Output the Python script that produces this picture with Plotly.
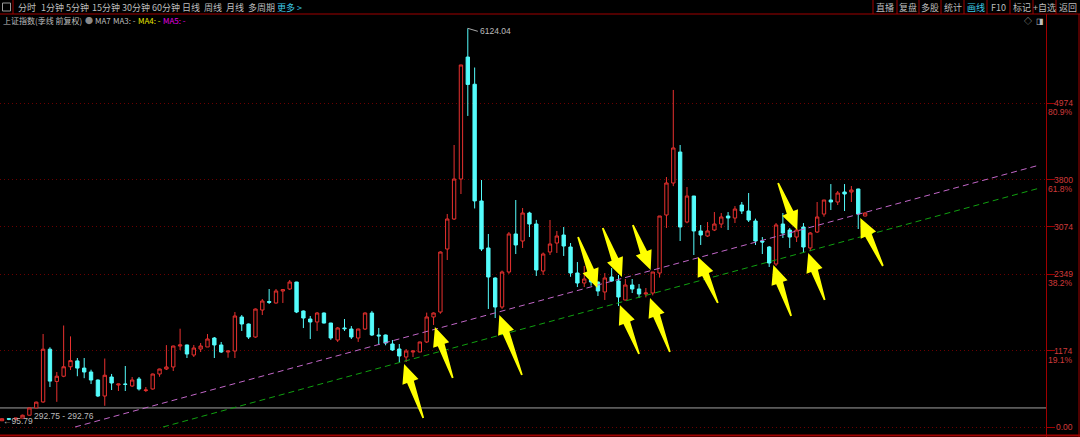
import math
import plotly.graph_objects as go

# ---------------- data (quarterly candles, 上证指数 季线) ----------------
opens = [96.05, 127.61, 120.19, 137.56, 180.92, 293.0, 385.0, 1195.0, 700.0, 780.0,
         925.0, 1015.0, 905.0, 845.0, 722.0, 476.0, 768.0, 645.0, 660.0, 630.0,
         737.0, 560.0, 584.0, 814.0, 891.0, 922.0, 1244.0, 1260.0, 1106.0, 1198.0,
         1229.0, 1367.0, 1260.0, 1152.0, 1167.0, 1690.0, 1582.0, 1382.0, 1797.0, 1928.0,
         1905.0, 2089.0, 2120.0, 2227.0, 1782.0, 1659.0, 1613.0, 1751.0, 1597.0, 1336.0,
         1521.0, 1505.0, 1367.0, 1505.0, 1751.0, 1413.0, 1413.0, 1275.0, 1198.0, 1075.0,
         1152.0, 1152.0, 1306.0, 1690.0, 1766.0, 2734.0, 3195.0, 3809.0, 5683.0, 5265.0,
         3472.0, 2750.0, 2289.0, 1843.0, 2381.0, 2965.0, 2857.0, 3287.0, 3118.0, 2396.0,
         2688.0, 2826.0, 2949.0, 2765.0, 2366.0, 2212.0, 2273.0, 2227.0, 2074.0, 2304.0,
         2243.0, 1951.0, 2181.0, 2120.0, 2043.0, 2058.0, 2365.0, 3256.0, 3748.0, 4224.0,
         3149.0, 3548.0, 3011.0, 2934.0, 3026.0, 3118.0, 3241.0, 3210.0, 3410.0, 3318.0,
         3164.0, 2857.0, 2765.0, 2504.0, 3118.0, 3026.0, 2918.0, 3072.0, 2750.0, 2995.0,
         3271.0, 3487.0, 3456.0, 3610.0, 3610.0, 3656.0, 3241.0]
highs = [127.61, 134.87, 137.56, 190.0, 292.76, 390.0, 1429.0, 1225.0, 845.0, 1558.95,
         1392.0, 1060.0, 1060.0, 880.0, 730.0, 1052.0, 815.0, 665.0, 937.0, 768.0,
         768.0, 614.0, 820.0, 895.0, 1258.0, 1250.0, 1510.0, 1265.0, 1260.0, 1290.0,
         1428.0, 1382.0, 1306.0, 1167.0, 1766.0, 1720.0, 1590.0, 1820.0, 1966.0, 2120.0,
         2120.0, 2120.0, 2258.0, 2230.0, 1790.0, 1705.0, 1766.0, 1760.0, 1600.0, 1536.0,
         1659.0, 1551.0, 1510.0, 1760.0, 1783.0, 1521.0, 1420.0, 1336.0, 1275.0, 1198.0,
         1167.0, 1310.0, 1757.0, 1760.0, 2698.0, 3272.0, 4332.0, 5561.0, 6124.04, 5522.0,
         3794.0, 2965.0, 2300.0, 2403.0, 2995.0, 3487.0, 3364.0, 3306.0, 3181.0, 2680.0,
         3180.0, 3011.0, 3072.0, 2826.0, 2534.0, 2473.0, 2453.0, 2235.0, 2365.0, 2442.0,
         2335.0, 2273.0, 2273.0, 2196.0, 2135.0, 2381.0, 3241.0, 3840.0, 5177.0, 4332.0,
         3686.0, 3550.0, 3103.0, 3149.0, 3302.0, 3287.0, 3302.0, 3394.0, 3456.0, 3594.0,
         3200.0, 2918.0, 2780.0, 3133.0, 3287.0, 3057.0, 3057.0, 3133.0, 2995.0, 3456.0,
         3487.0, 3732.0, 3625.0, 3732.0, 3702.0, 3660.0, 3300.0]
lows = [95.79, 104.96, 105.0, 133.0, 177.0, 292.0, 372.0, 614.0, 386.85, 765.0,
        875.0, 780.0, 750.0, 660.0, 460.0, 325.89, 568.0, 553.0, 553.0, 614.0,
        560.0, 537.0, 575.0, 772.0, 875.0, 860.0, 1183.0, 1060.0, 1075.0, 1152.0,
        1229.0, 1060.0, 1137.0, 1064.0, 1060.0, 1475.0, 1352.0, 1370.0, 1720.0, 1889.0,
        1895.0, 1905.0, 2104.0, 1750.0, 1520.0, 1352.0, 1475.0, 1590.0, 1339.0, 1306.0,
        1475.0, 1352.0, 1307.0, 1490.0, 1398.0, 1275.0, 1255.0, 1167.0, 998.0, 998.0,
        1075.0, 1150.0, 1290.0, 1567.0, 1740.0, 2565.0, 3180.0, 3579.0, 4778.0, 3357.0,
        2703.0, 1813.0, 1674.0, 1814.0, 2353.0, 2657.0, 2750.0, 2918.0, 2320.0, 2335.0,
        2642.0, 2673.0, 2627.0, 2307.0, 2150.0, 2150.0, 2170.0, 2012.0, 1951.0, 2230.0,
        1859.0, 1945.0, 2058.0, 1981.0, 1991.0, 2022.0, 2295.0, 3057.0, 3700.0, 2857.0,
        3130.0, 2642.0, 2796.0, 2920.0, 3010.0, 3057.0, 3026.0, 3133.0, 3272.0, 3149.0,
        2796.0, 2657.0, 2458.0, 2473.0, 2903.0, 2750.0, 2842.0, 2673.0, 2700.0, 2980.0,
        3230.0, 3333.0, 3410.0, 3318.0, 3456.0, 3041.0, 3235.0]
closes = [127.61, 120.19, 137.56, 180.92, 292.75, 382.0, 1195.0, 705.0, 780.0, 925.0,
          1020.0, 905.0, 845.0, 722.0, 476.0, 795.0, 676.0, 660.0, 655.0, 722.0,
          584.0, 568.0, 814.0, 891.0, 922.0, 1244.0, 1260.0, 1121.0, 1213.0, 1244.0,
          1352.0, 1260.0, 1152.0, 1167.0, 1705.0, 1582.0, 1382.0, 1812.0, 1935.0, 1915.0,
          2089.0, 2110.0, 2227.0, 1766.0, 1674.0, 1613.0, 1751.0, 1597.0, 1367.0, 1521.0,
          1510.0, 1382.0, 1505.0, 1751.0, 1413.0, 1400.0, 1290.0, 1183.0, 1091.0, 1167.0,
          1167.0, 1306.0, 1690.0, 1751.0, 2688.0, 3195.0, 3809.0, 5561.0, 5262.0, 3473.0,
          2734.0, 2304.0, 1843.0, 2381.0, 2965.0, 2796.0, 3287.0, 3118.0, 2412.0, 2657.0,
          2811.0, 2934.0, 2780.0, 2366.0, 2212.0, 2273.0, 2227.0, 2089.0, 2289.0, 2243.0,
          1997.0, 2181.0, 2120.0, 2043.0, 2058.0, 2381.0, 3241.0, 3748.0, 4286.0, 3072.0,
          3548.0, 3011.0, 2949.0, 3011.0, 3118.0, 3226.0, 3210.0, 3348.0, 3318.0, 3179.0,
          2857.0, 2842.0, 2519.0, 3103.0, 2980.0, 2918.0, 3026.0, 2765.0, 2980.0, 3226.0,
          3487.0, 3456.0, 3594.0, 3579.0, 3640.0, 3272.0, 3287.0]
first_year, first_quarter = 1990, 4

# right-axis levels
level_values = [0, 1174, 2349, 3074, 3800, 4974]
level_labels = ["0.00", "1174", "2349", "3074", "3800", "4974"]
level_pcts = ["", "19.1%", "38.2%", "", "61.8%", "80.9%"]

peak_high = 6124.04
bottom_low = 95.79
ref_level = 292.75
ref_level_text = "292.75 - 292.76"

# trend lines (index, price) -> (index, price)
trend_pink = (10.66, 0.0, 151.5, 4025.0)
trend_green = (23.5, 0.0, 151.5, 3671.0)

# yellow arrows: (head_index, head_price, tail_index, tail_price)
arrows = [
    (58.7, 968, 61.5, 138),
    (63.2, 1536, 65.8, 753),
    (72.6, 1720, 75.9, 799),
    (86.9, 2135, 84.1, 2919),
    (90.5, 2304, 87.7, 3057),
    (94.7, 2412, 92.1, 3103),
    (90.2, 1874, 93.0, 1121),
    (94.6, 1982, 97.5, 1152),
    (101.6, 2611, 104.5, 1905),
    (112.6, 2488, 115.2, 1705),
    (117.7, 2673, 120.1, 1951),
    (125.3, 3210, 128.6, 2473),
    (116.1, 3026, 113.3, 3748),
]

toolbar_left = ["分时", "1分钟", "5分钟", "15分钟", "30分钟", "60分钟", "日线", "周线", "月线", "多周期"]
toolbar_right = ["直播", "复盘", "多股", "统计", "画线", "F10", "标记", "+自选", "返回"]

# ---------------- geometry ----------------
W, H = 1080, 437
ML, MR, MT, MB = 0, 34, 15, 3
PW, PH = W - ML - MR, H - MT - MB
X0, X1 = -0.292, 152.41
Y0, Y1 = -107.5, 6328.7

RED = "#E8312F"
CYAN = "#54FCFC"
DARKRED = "#A00000"
GRAY = "#BDBDBD"
CJK = "Noto Sans CJK SC, sans-serif"
NUM = "Liberation Sans, Arial, sans-serif"


def d2p(x, y):
    return ((x - X0) * PW / (X1 - X0), MT + (Y1 - y) * PH / (Y1 - Y0))


def p2d(px, py):
    return (X0 + px * (X1 - X0) / PW, Y1 - (py - MT) * (Y1 - Y0) / PH)


def pxx(px):
    return (px - ML) / PW


def pxy(py):
    return (H - MB - py) / PH


n = len(opens)
xs = list(range(n))
qlabels = []
y, q = first_year, first_quarter
for _ in range(n):
    qlabels.append(f"{y}Q{q}")
    q += 1
    if q > 4:
        q, y = 1, y + 1

fig = go.Figure()
fig.add_trace(go.Candlestick(
    x=xs, open=opens, high=highs, low=lows, close=closes, hovertext=qlabels,
    increasing=dict(line=dict(color=RED, width=1), fillcolor="black"),
    decreasing=dict(line=dict(color=CYAN, width=1), fillcolor=CYAN),
    whiskerwidth=0, showlegend=False,
))

shapes = []
annotations = []

# horizontal reference line at 292.75
shapes.append(dict(type="line", xref="paper", yref="y", x0=0, x1=1, y0=ref_level, y1=ref_level,
                   line=dict(color="#A0A0A0", width=1), layer="below"))

# trend lines
for (xa, ya, xb, yb), col in ((trend_pink, "#C267C8"), (trend_green, "#10A010")):
    shapes.append(dict(type="line", xref="x", yref="y", x0=xa, y0=ya, x1=xb, y1=yb,
                       line=dict(color=col, width=1, dash="6px,4px")))

# yellow arrows as polygons
HL, HW, SW, TW = 19.0, 8.5, 3.6, 0.9
for hx_d, hy_d, tx_d, ty_d in arrows:
    hx, hy = d2p(hx_d, hy_d)
    tx, ty = d2p(tx_d, ty_d)
    dx, dy = hx - tx, hy - ty
    L = math.hypot(dx, dy)
    ux, uy = dx / L, dy / L
    nx, ny = -uy, ux
    bx, by = hx - ux * HL, hy - uy * HL
    pts = [(tx + nx * TW, ty + ny * TW), (bx + nx * SW, by + ny * SW), (bx + nx * HW, by + ny * HW),
           (hx, hy), (bx - nx * HW, by - ny * HW), (bx - nx * SW, by - ny * SW),
           (tx - nx * TW, ty - ny * TW)]
    dpts = [p2d(a, b) for a, b in pts]
    path = "M " + " L ".join(f"{a:.4f},{b:.3f}" for a, b in dpts) + " Z"
    shapes.append(dict(type="path", xref="x", yref="y", path=path,
                       fillcolor="#FFFF00", line=dict(width=0)))

# frame lines
shapes.append(dict(type="line", xref="paper", yref="paper", x0=pxx(0), x1=pxx(W), y0=pxy(14), y1=pxy(14),
                   line=dict(color=DARKRED, width=1)))
shapes.append(dict(type="line", xref="paper", yref="paper", x0=pxx(0), x1=pxx(W), y0=pxy(435.5), y1=pxy(435.5),
                   line=dict(color=DARKRED, width=2)))
shapes.append(dict(type="line", xref="paper", yref="paper", x0=pxx(1046.5), x1=pxx(1046.5), y0=pxy(14), y1=pxy(437),
                   line=dict(color=DARKRED, width=1)))
shapes.append(dict(type="line", xref="paper", yref="paper", x0=pxx(1079), x1=pxx(1079), y0=pxy(14), y1=pxy(437),
                   line=dict(color=DARKRED, width=1)))
shapes.append(dict(type="line", xref="paper", yref="paper", x0=pxx(13), x1=pxx(13), y0=pxy(0), y1=pxy(14),
                   line=dict(color=DARKRED, width=1)))
shapes.append(dict(type="rect", xref="paper", yref="paper", x0=pxx(2.5), x1=pxx(10.5), y0=pxy(3), y1=pxy(11),
                   line=dict(color="#9A9A9A", width=1)))
seps = [873, 897, 919, 941, 964, 987, 1010, 1033, 1056]
for s in seps:
    shapes.append(dict(type="line", xref="paper", yref="paper", x0=pxx(s), x1=pxx(s), y0=pxy(0), y1=pxy(14),
                       line=dict(color=DARKRED, width=1)))

# toolbar text
left_pos = [16, 39, 64, 90, 120, 150, 180, 202, 224, 246]
for t, xp in zip(toolbar_left, left_pos):
    annotations.append(dict(text=t, xref="paper", yref="paper", x=pxx(xp), y=pxy(7), xanchor="left",
                            yanchor="middle", showarrow=False, font=dict(family=CJK, size=9, color=GRAY)))
annotations.append(dict(text="更多 >", xref="paper", yref="paper", x=pxx(275), y=pxy(7), xanchor="left",
                        yanchor="middle", showarrow=False, font=dict(family=CJK, size=9, color="#3CC8E6")))
bounds = seps + [1080]
for i, t in enumerate(toolbar_right):
    c = (bounds[i] + bounds[i + 1]) / 2
    annotations.append(dict(text=t, xref="paper", yref="paper", x=pxx(c), y=pxy(7), xanchor="center",
                            yanchor="middle", showarrow=False,
                            font=dict(family=CJK, size=9, color="#3CC8E6" if t == "画线" else GRAY)))

# second row
row2 = [("上证指数(季线 前复权)", 1, GRAY), ("●", 83, "#8A8A8A"), ("MA7", 93, GRAY),
        ("MA3: -", 111, GRAY), ("MA4: -", 136, "#E6E600"), ("MA5: -", 161, "#E000E0")]
for t, xp, col in row2:
    annotations.append(dict(text=t, xref="paper", yref="paper", x=pxx(xp), y=pxy(20.5), xanchor="left",
                            yanchor="middle", showarrow=False, font=dict(family=CJK, size=8, color=col)))
annotations.append(dict(text="◇", xref="paper", yref="paper", x=pxx(1028), y=pxy(20.5), xanchor="center",
                        yanchor="middle", showarrow=False, font=dict(family=CJK, size=8, color=GRAY)))
annotations.append(dict(text="◨", xref="paper", yref="paper", x=pxx(1040), y=pxy(20.5), xanchor="center",
                        yanchor="middle", showarrow=False, font=dict(family=CJK, size=8, color=GRAY)))

# right axis labels
for v, lab, pct in zip(level_values, level_labels, level_pcts):
    annotations.append(dict(text=lab, xref="paper", yref="y", x=pxx(1075), y=v, xanchor="right",
                            yanchor="middle", showarrow=False, font=dict(family=NUM, size=8.5, color="#D03A3A")))
    if pct:
        annotations.append(dict(text=pct, xref="paper", yref="y", x=pxx(1075), y=v, yshift=-9,
                                xanchor="right", yanchor="middle", showarrow=False,
                                font=dict(family=NUM, size=8.5, color="#D03A3A")))

# value labels on chart
imax = highs.index(peak_high)
annotations.append(dict(text=f"{peak_high:.2f}", x=imax, y=peak_high, xref="x", yref="y",
                        ax=10, ay=3, axref="pixel", ayref="pixel", xanchor="left", yanchor="middle",
                        showarrow=True, arrowhead=0, arrowwidth=1, arrowcolor="#AAAAAA",
                        font=dict(family=NUM, size=8.5, color="#BBBBBB")))
imin = lows.index(bottom_low)
annotations.append(dict(text=f"←{bottom_low:.2f}", x=imin, y=bottom_low, xref="x", yref="y",
                        xanchor="left", yanchor="middle", xshift=-1, showarrow=False,
                        font=dict(family=NUM, size=8.5, color="#BBBBBB")))
annotations.append(dict(text=ref_level_text, x=4.45, y=ref_level, xref="x", yref="y",
                        xanchor="left", yanchor="top", yshift=-1, showarrow=False,
                        font=dict(family=NUM, size=8.5, color="#BBBBBB")))

fig.update_layout(
    width=W, height=H, margin=dict(l=ML, r=MR, t=MT, b=MB, pad=0),
    paper_bgcolor="black", plot_bgcolor="black",
    shapes=shapes, annotations=annotations, showlegend=False,
    xaxis=dict(range=[X0, X1], showgrid=False, zeroline=False, showticklabels=False,
               ticks="", showline=False, rangeslider=dict(visible=False), fixedrange=True),
    yaxis=dict(range=[Y0, Y1], side="right", tickvals=level_values, showticklabels=False,
               showgrid=True, gridcolor="#6A0000", griddash="1px,3px", gridwidth=1,
               ticks="outside", ticklen=8, tickcolor=DARKRED, zeroline=False, showline=False,
               fixedrange=True),
    hovermode=False,
)

fig.write_html("out.html", config={"displayModeBar": False},
               post_script="document.body.style.margin='0px';document.body.style.background='black';")
